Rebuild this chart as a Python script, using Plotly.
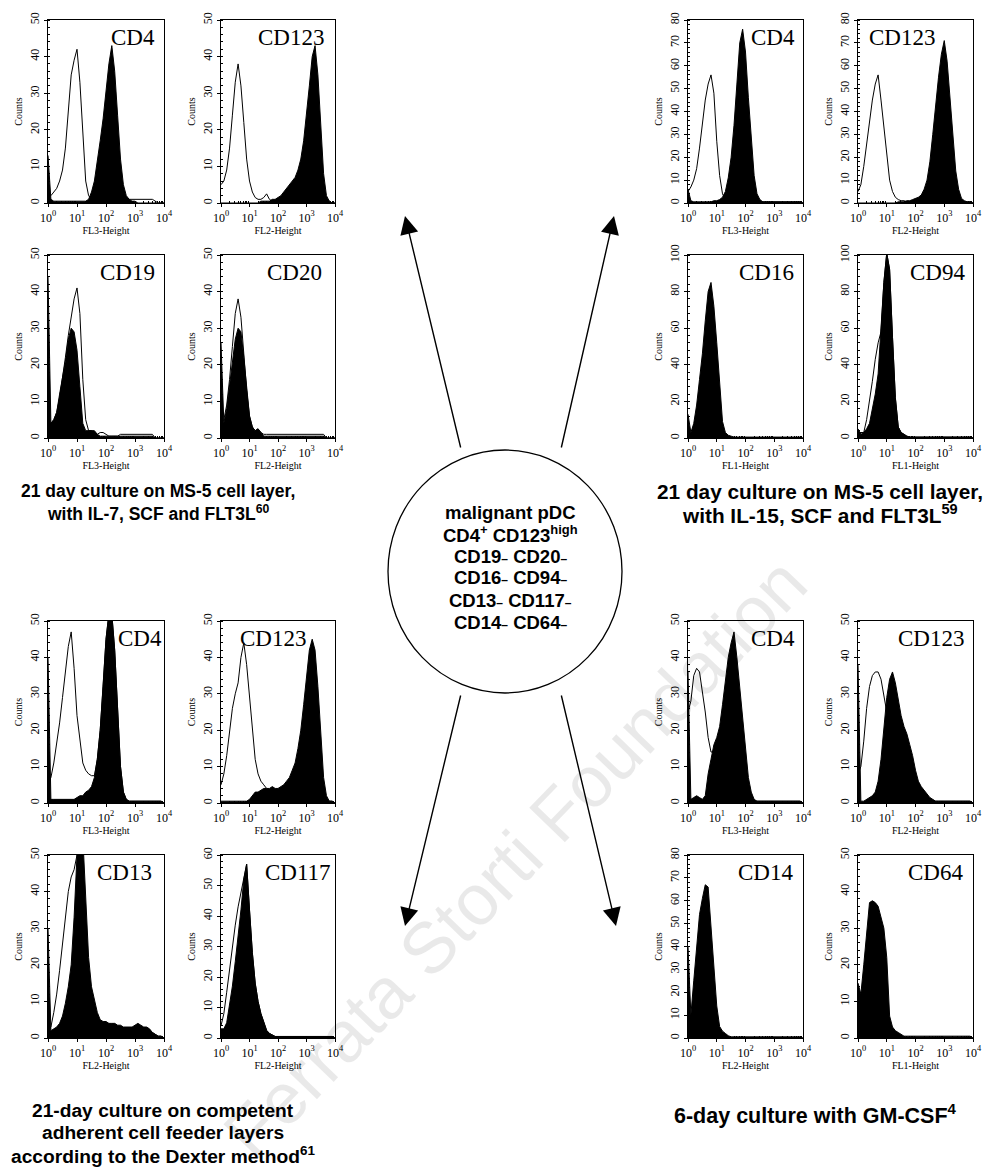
import plotly.graph_objects as go

W, H = 991, 1175          # browser window
OFF = 8                   # default page margin of the html body
FW, FH = W - OFF, H - OFF # figure size so the page does not overflow

# ---------------- data (log10 channel bins 10^0 .. 10^4) ----------------
LOG_BINS = [0.0, 0.1, 0.2, 0.3, 0.4, 0.5, 0.6, 0.7, 0.8, 0.9,
            1.0, 1.1, 1.2, 1.3, 1.4, 1.5, 1.6, 1.7, 1.8, 1.9,
            2.0, 2.1, 2.2, 2.3, 2.4, 2.5, 2.6, 2.7, 2.8, 2.9,
            3.0, 3.1, 3.2, 3.3, 3.4, 3.5, 3.6, 3.7, 3.8, 3.9, 4.0]
X_TICKS = [1, 10, 100, 1000, 10000]
X_TICKTEXT = ["10<sup>0</sup>", "10<sup>1</sup>", "10<sup>2</sup>", "10<sup>3</sup>", "10<sup>4</sup>"]

# top-left group: IL-7, SCF, FLT3L
TL_CD4_FILL = [13, 1, 0.5, 0.5, 0.5, 0.5, 0.5, 0.5, 0.5, 0.5, 0.5, 0.5, 0.5, 0.5, 1, 3, 6, 11, 17, 23,
               30, 38, 43, 36, 24, 12, 5, 2, 1, 0.5, 0.5, 0, 0, 0, 0, 0, 0, 0, 0, 0, 0]
TL_CD4_OPEN = [2, 2, 3, 4, 6, 9, 15, 24, 35, 39, 42, 33, 18, 6, 2, 1, 0.5, 0.5, 0.5, 0.5,
               0.5, 0.5, 0.5, 0.5, 0.5, 0.5, 0.5, 0.5, 1, 1, 1, 1, 1, 1, 1, 1, 1, 0.5, 0, 0, 0]
TL_CD123_FILL = [0, 0, 0, 0, 0, 0, 0, 0, 0, 0, 0, 0, 0, 0, 0.5, 0.5, 0.5, 0.5, 1, 1,
                 1.5, 2, 3, 4, 5, 6, 7, 9, 12, 17, 24, 32, 40, 43, 35, 20, 8, 2, 0.5, 0, 0]
TL_CD123_OPEN = [5, 6, 9, 15, 24, 33, 38, 32, 22, 12, 6, 3, 1.5, 1, 1, 1.5, 2.5, 1, 0.5, 0.5,
                 0.5, 0.5, 0.5, 0.5, 0.5, 0.5, 0.5, 0.5, 0.5, 0.5, 0.5, 0.5, 0.5, 0.5, 0.5, 0.5, 0.5, 0.5, 0.5, 0, 0]
TL_CD19_FILL = [44, 4, 5, 7, 12, 16, 21, 27, 30, 29, 24, 14, 4, 2, 2, 2, 2, 1, 0.5, 0.5,
                0.5, 0.5, 0.5, 0.5, 0.5, 0.5, 0.5, 0.5, 0.5, 0.5, 0.5, 0.5, 0.5, 0.5, 0.5, 0.5, 0.5, 0, 0, 0, 0]
TL_CD19_OPEN = [4, 4, 5, 7, 11, 16, 22, 28, 33, 38, 41, 34, 16, 5, 2, 2, 1.5, 1, 1.5, 1.5,
                1, 0.5, 0.5, 0.5, 0.5, 1, 1, 1, 1, 1, 1, 1, 1, 1, 1, 1, 1, 0, 0, 0, 0]
TL_CD20_FILL = [26, 4, 8, 14, 21, 27, 30, 29, 22, 13, 6, 3, 2, 2.5, 1.5, 0.5, 0.5, 0.5, 0.5, 0.5,
                0.5, 0.5, 0.5, 0.5, 0.5, 0.5, 0.5, 0.5, 0.5, 0.5, 0.5, 0.5, 0.5, 0.5, 0.5, 0.5, 0.5, 0, 0, 0, 0]
TL_CD20_OPEN = [4, 5, 9, 16, 25, 34, 38, 33, 23, 13, 6, 3, 2, 2.5, 1.5, 1, 1, 1, 1, 1,
                1, 1, 1, 1, 1, 1, 1, 1, 1, 1, 1, 1, 1, 1, 1, 1, 1, 0, 0, 0, 0]

# top-right group: IL-15, SCF, FLT3L
TR_CD4_FILL = [6, 1, 0.5, 0.5, 0.5, 0.5, 0.5, 0.5, 0.5, 1, 1, 1.5, 2.5, 5, 11, 20, 34, 52, 70, 76,
               66, 46, 28, 12, 4, 1.5, 0.5, 0.5, 0.5, 0.5, 0.5, 0.5, 0.5, 0.5, 0.5, 0.5, 0.5, 0.5, 0.5, 0.5, 0]
TR_CD4_OPEN = [5, 7, 10, 15, 24, 34, 45, 52, 56, 48, 27, 12, 4, 1.5, 1, 0.5, 0.5, 0.5, 0.5, 0.5,
               0.5, 0.5, 0.5, 0.5, 0.5, 0.5, 0.5, 0.5, 0.5, 0.5, 0.5, 0.5, 0.5, 0.5, 0.5, 0.5, 0.5, 0.5, 0.5, 0.5, 0]
TR_CD123_FILL = [0, 0, 0, 0, 0, 0, 0, 0, 0, 0, 0, 0, 0, 0, 0.5, 0.5, 0.5, 1, 1, 1.5,
                 2, 2.5, 3.5, 6, 10, 18, 30, 43, 55, 65, 71, 62, 45, 30, 14, 6, 2, 1, 0.5, 0.5, 0]
TR_CD123_OPEN = [5, 8, 16, 26, 37, 45, 52, 56, 45, 33, 21, 10, 5, 2.5, 1.5, 1, 1, 0.5, 0.5, 0.5,
                 0.5, 0.5, 0.5, 0.5, 0.5, 0.5, 0.5, 0.5, 0.5, 0.5, 0.5, 0.5, 0.5, 0.5, 0.5, 0.5, 0.5, 0.5, 0.5, 0.5, 0]
TR_CD16_FILL = [13, 3, 8, 18, 32, 46, 64, 80, 85, 72, 52, 30, 9, 3, 1.5, 1, 0.5, 0.5, 0.5, 0.5,
                0.5, 0.5, 0.5, 0.5, 0.5, 0.5, 0.5, 0.5, 0.5, 0.5, 0.5, 0.5, 0.5, 0.5, 0.5, 0.5, 0.5, 0.5, 0.5, 0.5, 0]
TR_CD94_FILL = [5, 2, 3, 5, 8, 16, 24, 35, 58, 85, 101, 92, 55, 22, 6, 3, 2, 1, 0.5, 0.5,
                0.5, 0.5, 0.5, 0.5, 0.5, 0.5, 0.5, 0.5, 0.5, 0.5, 0.5, 0.5, 0.5, 0.5, 0.5, 0.5, 0.5, 0.5, 0.5, 0.5, 0]
TR_CD94_OPEN = [3, 3, 3, 10, 20, 31, 43, 52, 58, 85, 101, 92, 55, 22, 6, 3, 2, 1, 0.5, 0.5,
                0.5, 0.5, 0.5, 0.5, 0.5, 0.5, 0.5, 0.5, 0.5, 0.5, 0.5, 0.5, 0.5, 0.5, 0.5, 0.5, 0.5, 0.5, 0.5, 0.5, 0]

# bottom-left group: Dexter feeder layers
BL_CD4_FILL = [40, 1, 1, 1, 1, 1, 1, 1, 1, 1, 1.5, 2, 2, 3, 3.5, 4.5, 7, 12, 20, 32,
               45, 52, 52, 42, 26, 10, 3, 1, 0.5, 0.5, 0.5, 0.5, 0.5, 0.5, 0.5, 0.5, 0.5, 0.5, 0.5, 0.5, 0]
BL_CD4_OPEN = [5, 7, 11, 16, 22, 29, 36, 43, 47, 37, 24, 17, 11, 9, 8, 7.5, 7.5, 12, 20, 32,
               45, 52, 52, 42, 26, 10, 3, 1, 0.5, 0.5, 0.5, 0.5, 0.5, 0.5, 0.5, 0.5, 0.5, 0.5, 0.5, 0.5, 0]
BL_CD123_FILL = [0.5, 0.5, 0.5, 0.5, 0.5, 0.5, 0.5, 0.5, 0.5, 0.5, 1, 2, 3, 3, 3.5, 4, 4, 4, 4.5, 4,
                 4, 4.5, 5, 6, 7, 9, 11, 15, 20, 27, 35, 42, 45, 42, 32, 18, 7, 2, 0.5, 0.5, 0]
BL_CD123_OPEN = [5, 8, 13, 20, 26, 30, 33, 40, 44, 38, 30, 20, 12, 8, 6, 5, 4, 3.5, 0.5, 0.5,
                 0.5, 0.5, 0.5, 0.5, 0.5, 0.5, 0.5, 0.5, 0.5, 0.5, 0.5, 0.5, 0.5, 0.5, 0.5, 0.5, 0.5, 0.5, 0.5, 0.5, 0]
BL_CD13_FILL = [30, 2, 2.5, 3, 4, 6, 9.5, 14, 20, 33, 50, 58, 55, 38, 22, 14, 10, 7, 5, 4.5,
                4.5, 4, 4, 4, 3.5, 3.5, 3, 3, 3, 3, 3.5, 4, 3.5, 3, 3, 2.5, 1.5, 1, 0.5, 0.5, 0]
BL_CD13_OPEN = [2, 3, 7, 12, 18.5, 26, 34, 40, 44, 46, 50, 50, 40, 25, 12, 6, 4, 3, 2.5, 2.5,
                2, 2, 2, 2, 2, 2, 2, 2, 2, 2, 2, 2, 2, 2, 2, 2, 1.5, 1, 0.5, 0.5, 0]
BL_CD117_FILL = [3, 3, 5, 11, 17, 25, 33, 42, 52, 57, 42, 28, 18, 12, 8, 5, 2.5, 1.5, 1, 0.5,
                 0.5, 0.5, 0.5, 0.5, 0.5, 0.5, 0.5, 0.5, 0.5, 0.5, 0.5, 0.5, 0.5, 0.5, 0.5, 0.5, 0.5, 0.5, 0.5, 0.5, 0]
BL_CD117_OPEN = [4, 8, 15, 23, 30, 37, 43, 48, 53, 57, 42, 28, 18, 12, 8, 5, 2.5, 1.5, 1, 0.5,
                 0.5, 0.5, 0.5, 0.5, 0.5, 0.5, 0.5, 0.5, 0.5, 0.5, 0.5, 0.5, 0.5, 0.5, 0.5, 0.5, 0.5, 0.5, 0.5, 0.5, 0]

# bottom-right group: GM-CSF
BR_CD4_FILL = [36, 1, 1.5, 2, 1.5, 1, 2, 8, 12, 16, 18, 21, 27, 34, 40, 44, 47, 40, 32, 22,
               14, 7, 3, 1, 0.5, 0.5, 0.5, 0.5, 0.5, 0.5, 0.5, 0.5, 0.5, 0.5, 0.5, 0.5, 0.5, 0.5, 0.5, 0.5, 0]
BR_CD4_OPEN = [25, 28, 35, 37, 36, 31, 25, 18, 14, 14, 12, 8, 4, 2, 1, 0.5, 0.5, 0.5, 0.5, 0.5,
               0.5, 0.5, 0.5, 0.5, 0.5, 0.5, 0.5, 0.5, 0.5, 0.5, 0.5, 0.5, 0.5, 0.5, 0.5, 0.5, 0.5, 0.5, 0.5, 0.5, 0]
BR_CD123_FILL = [38, 0.5, 0.5, 1, 1.5, 2, 3, 6, 12, 20, 29, 34, 36, 33, 28, 24, 21, 19, 16, 13,
                 9, 6, 4.5, 3.5, 2.5, 1.5, 1, 0.5, 0.5, 0.5, 0.5, 0.5, 0.5, 0.5, 0.5, 0.5, 0.5, 0.5, 0.5, 0.5, 0]
BR_CD123_OPEN = [8, 10, 17, 26, 32, 35, 36, 36, 34, 30, 25, 19, 12, 6, 3, 1.5, 1, 0.5, 0.5, 0.5,
                 0.5, 0.5, 0.5, 0.5, 0.5, 0.5, 0.5, 0.5, 0.5, 0.5, 0.5, 0.5, 0.5, 0.5, 0.5, 0.5, 0.5, 0.5, 0.5, 0.5, 0]
BR_CD14_FILL = [40, 10, 25, 38, 54, 61, 67, 66, 50, 30, 14, 5, 3, 2, 1, 0.5, 0.5, 0.5, 0.5, 0.5,
                0.5, 0.5, 0.5, 0.5, 0.5, 0.5, 0.5, 0.5, 0.5, 0.5, 0.5, 0.5, 0.5, 0.5, 0.5, 0.5, 0.5, 0.5, 0.5, 0.5, 0]
BR_CD64_FILL = [15, 12, 20, 28, 37, 37.5, 37, 36, 33, 30, 22, 6, 3, 2, 1.5, 1, 0.5, 0.5, 0.5, 0.5,
                0.5, 0.5, 0.5, 0.5, 0.5, 0.5, 0.5, 0.5, 0.5, 0.5, 0.5, 0.5, 0.5, 0.5, 0.5, 0.5, 0.5, 0.5, 0.5, 0.5, 0]

MARKERS = ["CD4", "CD123", "CD19", "CD20",
           "CD4", "CD123", "CD16", "CD94",
           "CD4", "CD123", "CD13", "CD117",
           "CD4", "CD123", "CD14", "CD64"]
FILLS = [TL_CD4_FILL, TL_CD123_FILL, TL_CD19_FILL, TL_CD20_FILL,
         TR_CD4_FILL, TR_CD123_FILL, TR_CD16_FILL, TR_CD94_FILL,
         BL_CD4_FILL, BL_CD123_FILL, BL_CD13_FILL, BL_CD117_FILL,
         BR_CD4_FILL, BR_CD123_FILL, BR_CD14_FILL, BR_CD64_FILL]
OPENS = [TL_CD4_OPEN, TL_CD123_OPEN, TL_CD19_OPEN, TL_CD20_OPEN,
         TR_CD4_OPEN, TR_CD123_OPEN, None, TR_CD94_OPEN,
         BL_CD4_OPEN, BL_CD123_OPEN, BL_CD13_OPEN, BL_CD117_OPEN,
         BR_CD4_OPEN, BR_CD123_OPEN, None, None]
Y_MAX = [50, 50, 50, 50, 80, 80, 100, 100, 50, 50, 50, 60, 50, 50, 80, 50]
X_TITLES = ["FL3-Height", "FL2-Height", "FL3-Height", "FL2-Height",
            "FL3-Height", "FL2-Height", "FL1-Height", "FL1-Height",
            "FL3-Height", "FL2-Height", "FL2-Height", "FL2-Height",
            "FL3-Height", "FL2-Height", "FL2-Height", "FL1-Height"]

NEG = "<span style='font-size:12px'>–</span>"
CENTER_LINES = ["malignant pDC",
                "CD4<sup>+</sup> CD123<sup>high</sup>",
                f"CD19{NEG} CD20{NEG}",
                f"CD16{NEG} CD94{NEG}",
                f"CD13{NEG} CD117{NEG}",
                f"CD14{NEG} CD64{NEG}"]
CAPTION_TL = ["21 day culture on MS-5 cell layer,", "with IL-7, SCF and FLT3L<sup>60</sup>"]
CAPTION_TR = ["21 day culture on MS-5 cell layer,", "with IL-15, SCF and FLT3L<sup>59</sup>"]
CAPTION_BL = ["21-day culture on competent", "adherent cell feeder layers",
              "according to the Dexter method<sup>61</sup>"]
CAPTION_BR = ["6-day culture with GM-CSF<sup>4</sup>"]

# ---------------- layout geometry (window pixels) ----------------
COLS_L = [(48, 164), (221, 335)]
COLS_R = [(688, 803), (858, 973)]
ROWS_T = [(20, 203), (255, 438)]
ROWS_B = [(621, 803), (855, 1038)]
GROUPS = [(COLS_L, ROWS_T), (COLS_R, ROWS_T), (COLS_L, ROWS_B), (COLS_R, ROWS_B)]
LABEL_POS = [(0.94, "right"), (0.92, "right"), (0.94, "right"), (0.90, "right"),
             (0.95, "right"), (0.08, "left"), (0.94, "right"), (0.95, "right"),
             (1.0, "right"), (0.15, "left"), (0.91, "right"), (0.98, "right"),
             (0.95, "right"), (0.94, "right"), (0.93, "right"), (0.93, "right")]


def px(p):
    return (p - OFF) / FW


def py(p):
    return 1 - (p - OFF) / FH


channels = [10 ** b for b in LOG_BINS]
minor_vals = [m * 10 ** d for d in range(4) for m in range(2, 10)]
SERIF = "Liberation Serif"
SANS = "Liberation Sans"

fig = go.Figure()
layout = dict(width=FW, height=FH, margin=dict(l=0, r=0, t=0, b=0, autoexpand=False),
              paper_bgcolor="white", plot_bgcolor="white", showlegend=False)
annotations = []

# watermark (drawn first, faint)
annotations.append(dict(x=px(515), y=py(858), xref="paper", yref="paper",
                        text="Ferrata Storti Foundation", showarrow=False, textangle=-46,
                        xanchor="center", yanchor="middle",
                        font=dict(family=SANS, size=72, color="rgba(0,0,0,0.085)")))

for i in range(16):
    g, k = divmod(i, 4)
    cols, rows = GROUPS[g]
    r, c = divmod(k, 2)
    x0, x1 = cols[c]
    y0, y1 = rows[r]
    n = i + 1
    xa = f"x{n}" if n > 1 else "x"
    ya = f"y{n}" if n > 1 else "y"
    fig.add_trace(go.Scatter(x=channels, y=FILLS[i], mode="lines", fill="tozeroy",
                             fillcolor="black", line=dict(color="black", width=1),
                             xaxis=xa, yaxis=ya, hoverinfo="skip"))
    if OPENS[i] is not None:
        fig.add_trace(go.Scatter(x=channels, y=OPENS[i], mode="lines",
                                 line=dict(color="black", width=1),
                                 xaxis=xa, yaxis=ya, hoverinfo="skip"))
    ymax = Y_MAX[i]
    dt = 20 if ymax == 100 else 10
    layout[f"xaxis{n}" if n > 1 else "xaxis"] = dict(
        domain=[px(x0), px(x1)], anchor=ya, type="log", range=[0, 4], automargin=False,
        tickvals=X_TICKS, ticktext=X_TICKTEXT, ticks="outside", ticklen=3,
        tickcolor="black", tickfont=dict(family=SERIF, size=12, color="black"),
        minor=dict(tickvals=minor_vals, ticks="inside", ticklen=2, tickcolor="black"),
        showline=True, linecolor="black", linewidth=1.2, mirror=True,
        showgrid=False, zeroline=False,
        title=dict(text=X_TITLES[i], font=dict(family=SERIF, size=10, color="black"), standoff=1))
    layout[f"yaxis{n}" if n > 1 else "yaxis"] = dict(
        domain=[py(y1), py(y0)], anchor=xa, range=[0, ymax], dtick=dt, automargin=False,
        tickangle=-90, ticks="outside", ticklen=3, tickcolor="black",
        tickfont=dict(family=SERIF, size=12, color="black"),
        minor=dict(dtick=dt / 5, ticks="inside", ticklen=2, tickcolor="black"),
        showline=True, linecolor="black", linewidth=1.2, mirror=True,
        showgrid=False, zeroline=False,
        title=dict(text="Counts", font=dict(family=SERIF, size=10, color="black"), standoff=3))
    lx, anc = LABEL_POS[i]
    annotations.append(dict(x=lx, y=0.985, xref=f"{xa} domain", yref=f"{ya} domain",
                            text=MARKERS[i], showarrow=False, xanchor=anc, yanchor="top",
                            font=dict(family=SERIF, size=23, color="black")))

# centre text
for j, line in enumerate(CENTER_LINES):
    annotations.append(dict(x=px(510), y=py(512 + 22 * j), xref="paper", yref="paper",
                            text=f"<b>{line}</b>", showarrow=False, xanchor="center", yanchor="middle",
                            font=dict(family=SANS, size=18.5, color="black")))


def caption(lines, cx, cy0, size, step=22):
    for j, line in enumerate(lines):
        annotations.append(dict(x=px(cx), y=py(cy0 + step * j), xref="paper", yref="paper",
                                text=f"<b>{line}</b>", showarrow=False, xanchor="center",
                                yanchor="middle", font=dict(family=SANS, size=size, color="black")))


caption(CAPTION_TL, 158, 491, 17.5)
caption(CAPTION_TR, 820, 491, 20.8, 23)
caption(CAPTION_BL, 163, 1110, 19.2, 22.5)
caption(CAPTION_BR, 815, 1114, 21.5)

# arrows (tip position in paper coords, tail offset in pixels)
for tip, tail in [((405, 216), (461, 449)), ((614, 216), (561, 449)),
                  ((405, 926), (461, 694)), ((616, 926), (561, 694))]:
    annotations.append(dict(x=px(tip[0]), y=py(tip[1]), xref="paper", yref="paper",
                            ax=tail[0] - tip[0], ay=tail[1] - tip[1], text="",
                            showarrow=True, arrowhead=2, arrowsize=2.6, arrowwidth=1.4,
                            arrowcolor="black"))

layout["annotations"] = annotations
layout["shapes"] = [dict(type="circle", xref="paper", yref="paper",
                         x0=px(388), x1=px(622), y0=py(693), y1=py(450),
                         line=dict(color="black", width=1.3))]
fig.update_layout(**layout)
fig.write_html("out.html")
